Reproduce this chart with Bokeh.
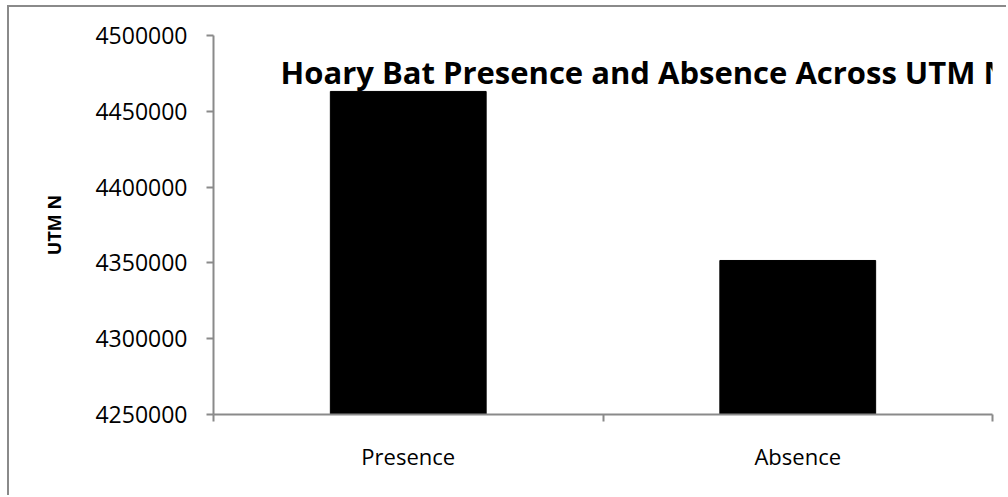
from bokeh.plotting import figure
from bokeh.models import Range1d, FixedTicker, Label, NumeralTickFormatter
from bokeh.embed import file_html
from bokeh.resources import INLINE

categories = ["Presence", "Absence"]
utm_n = [4463100, 4351600]
y_min, y_max = 4250000, 4500000
y_ticks = [4250000, 4300000, 4350000, 4400000, 4450000, 4500000]
title_text = "Hoary Bat Presence and Absence Across UTM N"
y_label = "UTM N"

GREY = "#8a8a8a"
FONT = "Open Sans"

n = len(categories)
centers = [i + 0.5 for i in range(n)]
bounds = list(range(n + 1))

p = figure(width=999, height=490,
           x_range=Range1d(0, n),
           y_range=Range1d(y_min, y_max),
           output_backend="svg", toolbar_location=None,
           min_border_left=204, min_border_right=16,
           min_border_top=28, min_border_bottom=83)
p.styles = {"border-top": f"2px solid {GREY}", "border-left": f"2px solid {GREY}",
            "margin-left": "7px", "margin-top": "5px"}
p.outline_line_color = None
p.grid.grid_line_color = None
p.background_fill_color = "white"
p.border_fill_color = "white"

p.vbar(x=centers, top=utm_n, bottom=y_min, width=0.4, color="black")

# y axis
ya = p.yaxis[0]
ya.ticker = FixedTicker(ticks=y_ticks)
ya.formatter = NumeralTickFormatter(format="0")
ya.axis_line_color = GREY
ya.axis_line_width = 2
ya.major_tick_line_color = GREY
ya.major_tick_line_width = 2
ya.major_tick_in = 0
ya.major_tick_out = 7
ya.minor_tick_line_color = None
ya.major_label_text_font = FONT
ya.major_label_text_font_size = "23px"
ya.major_label_text_color = "black"
ya.major_label_standoff = 19
ya.axis_label = y_label
ya.axis_label_text_font = FONT
ya.axis_label_text_font_style = "bold"
ya.axis_label_text_font_size = "18px"
ya.axis_label_text_color = "black"
ya.axis_label_standoff = 26

# x axis: category labels at centres, boundary ticks as minor ticks
xa = p.xaxis[0]
xa.ticker = FixedTicker(ticks=centers, minor_ticks=bounds)
xa.major_label_overrides = {c: cat for c, cat in zip(centers, categories)}
xa.axis_line_color = GREY
xa.axis_line_width = 2
xa.major_tick_line_color = None
xa.major_tick_in = 0
xa.major_tick_out = 0
xa.minor_tick_line_color = GREY
xa.minor_tick_line_width = 2
xa.minor_tick_in = 0
xa.minor_tick_out = 7
xa.major_label_text_font = FONT
xa.major_label_text_font_size = "22px"
xa.major_label_text_color = "black"
xa.major_label_standoff = 19

title = Label(x=67, y=343, x_units="screen", y_units="screen",
              text=title_text, text_font=FONT, text_font_style="bold",
              text_font_size="31px", text_color="black",
              text_baseline="alphabetic", text_align="left")
p.add_layout(title)

open("out.html", "w").write(file_html(p, INLINE))
